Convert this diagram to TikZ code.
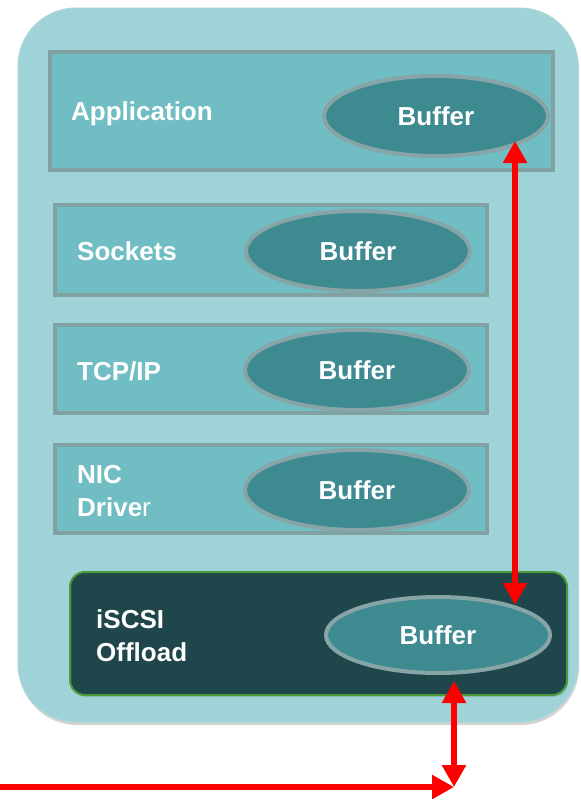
\documentclass[tikz,border=0pt]{standalone}
\usepackage{fontspec}
\setmainfont{Liberation Sans}
\usetikzlibrary{arrows.meta,shapes.geometric,shadows}

\definecolor{hostfill}{HTML}{A0D3D7}
\definecolor{layerfill}{HTML}{70BEC3}
\definecolor{layeredge}{HTML}{82A1A3}
\definecolor{buffill}{HTML}{3D8A90}
\definecolor{bufedge}{HTML}{87A5A7}
\definecolor{offfill}{HTML}{1F464A}
\definecolor{offedge}{HTML}{4C9A3A}
\definecolor{wire}{HTML}{FF0000}

\tikzset{
  host/.style={rectangle, rounded corners=58pt, fill=hostfill, draw=hostfill!90!white,
    line width=1pt, inner sep=0pt,
    drop shadow={opacity=0.35, shadow xshift=1pt, shadow yshift=-3pt}},
  layer/.style={rectangle, fill=layerfill, draw=layeredge, line width=4pt, inner sep=0pt},
  offload/.style={rectangle, rounded corners=15pt, fill=offfill, draw=offedge, line width=2pt,
    inner sep=0pt, drop shadow={opacity=0.3, shadow xshift=1pt, shadow yshift=-2pt}},
  buf/.style={ellipse, fill=buffill, draw=bufedge, line width=4pt, inner sep=0pt,
    minimum width=224pt, minimum height=80pt, text=white,
    font=\fontsize{26}{31}\selectfont\bfseries},
  lbl/.style={anchor=west, text=white, align=left, inner sep=0pt,
    font=\fontsize{26}{33}\selectfont\bfseries},
  link/.style={draw=wire, line width=6.5pt,
    arrows={Triangle[length=22pt,width=23pt]-Triangle[length=22pt,width=23pt]}},
  feed/.style={draw=wire, line width=6.5pt, -{Triangle[length=22pt,width=23pt]}},
}

\begin{document}
\begin{tikzpicture}[x=1pt,y=-1pt]
  \useasboundingbox (0,0) rectangle (581,801);

  % host enclosure
  \node[host, minimum width=560pt, minimum height=714pt] (host) at (298,365) {};

  % protocol stack layers
  \node[layer, minimum width=503pt, minimum height=118pt] (app) at (301.5,111) {};
  \node[layer, minimum width=432pt, minimum height=90pt]  (sock) at (271,250) {};
  \node[layer, minimum width=432pt, minimum height=88pt]  (tcp) at (271,369) {};
  \node[layer, minimum width=432pt, minimum height=88pt]  (nic) at (271,489) {};
  \node[offload, minimum width=497pt, minimum height=123pt] (isc) at (318.5,633.5) {};

  % layer names
  \node[lbl] (appname)  at (71,114) {Application};
  \node[lbl] (sockname) at (77,251) {Sockets};
  \node[lbl] (tcpname)  at (77,371) {TCP/IP};
  \node[lbl] (nicname)  at (77,491) {NIC\\Drive{\mdseries r}};
  \node[lbl] (iscname)  at (96,636) {iSCSI\\Offload};

  % buffers
  \node[buf] (appbuf)  at (436,116) {Buffer};
  \node[buf] (sockbuf) at (358,251) {Buffer};
  \node[buf] (tcpbuf)  at (357,370) {Buffer};
  \node[buf] (nicbuf)  at (357,490) {Buffer};
  \node[buf, minimum height=76pt] (iscbuf) at (438,635) {Buffer};

  % data path
  \coordinate (appout) at (515,141);
  \coordinate (iscin)  at (515,605);
  \coordinate (iscout) at (454,681);
  \coordinate (bend)   at (454,787);
  \coordinate (lan)    at (0,787);

  \draw[link] (appout) -- (iscin);
  \draw[link] (iscout) -- (bend);
  \draw[feed] (lan) -- (bend);
\end{tikzpicture}
\end{document}
